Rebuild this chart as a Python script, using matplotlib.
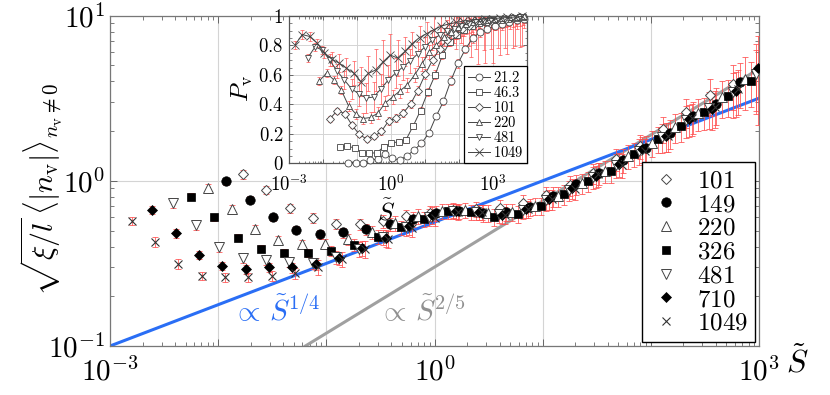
import numpy as np
import matplotlib
matplotlib.use("Agg")
import matplotlib.pyplot as plt
from matplotlib.ticker import FixedLocator, FuncFormatter, LogLocator, NullFormatter, MultipleLocator

plt.rcParams["mathtext.fontset"] = "cm"
plt.rcParams["font.family"] = "serif"
plt.rcParams["font.serif"] = ["DejaVu Serif"]

# main panel: data collapse, one series per system size
sizes = ["101", "149", "220", "326", "481", "710", "1049"]

x_101 = [0.0169, 0.0278, 0.0457, 0.0751, 0.123, 0.203, 0.333, 0.548, 0.900, 1.48, 2.43, 3.99,
         6.56, 10.8, 17.7, 29.1, 47.9, 78.7, 129, 212, 349, 574, 943]
y_101 = [1.098, 0.882, 0.680, 0.594, 0.547, 0.547, 0.572, 0.609, 0.637, 0.664, 0.674, 0.683,
         0.732, 0.819, 0.942, 1.113, 1.354, 1.623, 2.057, 2.609, 3.307, 3.855, 4.623]
e_101 = [0.06, 0.06, 0.06, 0.07, 0.07, 0.08, 0.09, 0.10, 0.10, 0.10, 0.10, 0.12,
         0.12, 0.12, 0.14, 0.14, 0.15, 0.16, 0.18, 0.20, 0.25, 0.30, 0.45]

x_149 = [0.0119, 0.0195, 0.0320, 0.0526, 0.0865, 0.142, 0.233, 0.384, 0.630, 1.04, 1.70, 2.80,
         4.60, 7.56, 12.4, 20.4, 33.5, 55.1, 90.5, 149, 244, 402, 660]
y_149 = [0.992, 0.769, 0.603, 0.505, 0.475, 0.487, 0.510, 0.547, 0.586, 0.637, 0.655, 0.637,
         0.646, 0.693, 0.808, 0.955, 1.113, 1.335, 1.578, 1.945, 2.466, 2.916, 3.964]
e_149 = [0.05, 0.05, 0.05, 0.05, 0.06, 0.07, 0.08, 0.09, 0.10, 0.10, 0.10, 0.12,
         0.12, 0.12, 0.14, 0.14, 0.15, 0.16, 0.18, 0.20, 0.22, 0.25, 0.30]

x_220 = [0.00813, 0.0134, 0.0220, 0.0361, 0.0593, 0.0974, 0.160, 0.263, 0.432, 0.710, 1.17, 1.92,
         3.15, 5.18, 8.51, 14.0, 23.0, 37.8, 62.1, 102, 168, 275, 452, 743]
y_220 = [0.899, 0.674, 0.510, 0.439, 0.413, 0.417, 0.443, 0.489, 0.554, 0.611, 0.655, 0.664,
         0.637, 0.646, 0.703, 0.808, 0.968, 1.145, 1.411, 1.692, 2.116, 2.572, 3.217, 4.134]
e_220 = [0.06, 0.06, 0.06, 0.06, 0.06, 0.07, 0.08, 0.09, 0.10, 0.10, 0.10, 0.10,
         0.12, 0.12, 0.12, 0.14, 0.14, 0.15, 0.16, 0.18, 0.20, 0.22, 0.25, 0.35]

x_326 = [0.00562, 0.00923, 0.0152, 0.0249, 0.0410, 0.0673, 0.111, 0.182, 0.299, 0.491, 0.806, 1.33,
         2.18, 3.58, 5.88, 9.67, 15.9, 26.1, 42.9, 70.5, 116, 190, 313, 514, 845]
y_326 = [0.802, 0.600, 0.453, 0.388, 0.368, 0.366, 0.376, 0.409, 0.460, 0.522, 0.586, 0.655,
         0.646, 0.603, 0.628, 0.703, 0.831, 0.996, 1.145, 1.451, 1.789, 2.145, 2.609, 3.262, 4.020]
e_326 = [0.05, 0.05, 0.05, 0.05, 0.05, 0.06, 0.07, 0.08, 0.10, 0.10, 0.10, 0.10,
         0.10, 0.12, 0.12, 0.12, 0.14, 0.14, 0.15, 0.16, 0.18, 0.20, 0.22, 0.25, 0.30]

x_481 = [0.00379, 0.00623, 0.0102, 0.0168, 0.0276, 0.0454, 0.0746, 0.123, 0.201, 0.331, 0.544, 0.893,
         1.47, 2.41, 3.97, 6.52, 10.7, 17.6, 28.9, 47.5, 78.1, 128, 211, 347, 569, 936]
y_481 = [0.738, 0.543, 0.400, 0.339, 0.331, 0.324, 0.317, 0.345, 0.386, 0.456, 0.524, 0.603,
         0.655, 0.646, 0.628, 0.664, 0.764, 0.878, 1.053, 1.245, 1.514, 1.840, 2.333, 2.758, 3.449, 4.434]
e_481 = [0.07, 0.07, 0.07, 0.06, 0.06, 0.07, 0.08, 0.09, 0.10, 0.10, 0.12, 0.12,
         0.10, 0.10, 0.12, 0.12, 0.14, 0.14, 0.15, 0.16, 0.18, 0.20, 0.22, 0.25, 0.30, 0.40]

x_710 = [0.00247, 0.00405, 0.00666, 0.0109, 0.0180, 0.0295, 0.0485, 0.0797, 0.131, 0.215, 0.354, 0.581,
         0.955, 1.57, 2.58, 4.24, 6.97, 11.5, 18.8, 30.9, 50.8, 83.5, 137, 225, 370, 609, 985]
y_710 = [0.667, 0.480, 0.356, 0.305, 0.292, 0.299, 0.299, 0.314, 0.340, 0.391, 0.449, 0.531,
         0.620, 0.655, 0.646, 0.620, 0.674, 0.775, 0.903, 1.068, 1.262, 1.556, 1.866, 2.365, 2.720, 3.497, 4.820]
e_710 = [0.06, 0.06, 0.06, 0.06, 0.06, 0.06, 0.07, 0.08, 0.09, 0.10, 0.12, 0.12,
         0.12, 0.10, 0.10, 0.12, 0.12, 0.14, 0.14, 0.15, 0.16, 0.18, 0.20, 0.22, 0.25, 0.30, 0.55]

x_1049 = [0.00159, 0.00261, 0.00429, 0.00705, 0.0116, 0.0190, 0.0313, 0.0514, 0.0845, 0.139, 0.228, 0.375,
          0.616, 1.01, 1.66, 2.73, 4.49, 7.38, 12.1, 19.9, 32.7, 53.8, 88.4, 145, 239, 392, 645]
y_1049 = [0.572, 0.425, 0.313, 0.266, 0.261, 0.261, 0.265, 0.276, 0.300, 0.335, 0.386, 0.443,
          0.517, 0.594, 0.646, 0.646, 0.620, 0.674, 0.775, 0.891, 1.098, 1.245, 1.514, 1.866, 2.399, 2.797, 3.596]
e_1049 = [0.06, 0.07, 0.07, 0.06, 0.06, 0.06, 0.07, 0.08, 0.10, 0.10, 0.12, 0.12,
          0.12, 0.10, 0.10, 0.10, 0.12, 0.12, 0.14, 0.14, 0.16, 0.16, 0.18, 0.20, 0.22, 0.25, 0.30]

main_x = [x_101, x_149, x_220, x_326, x_481, x_710, x_1049]
main_y = [y_101, y_149, y_220, y_326, y_481, y_710, y_1049]
main_e = [e_101, e_149, e_220, e_326, e_481, e_710, e_1049]

# guide lines
blue_x = [1e-3, 1e3]
blue_y = [0.1, 3.16]
gray_x = [0.064, 1e3]
gray_y = [0.1, 4.76]

# inset: P_v vs S~
in_sizes = ["21.2", "46.3", "101", "220", "481", "1049"]

ix_21 = [0.0555, 0.0912, 0.150, 0.246, 0.405, 0.665, 1.09, 1.80, 2.95, 4.85, 7.96, 13.1, 21.5,
         35.4, 58.1, 95.5, 157, 258, 424, 696, 1144, 1879, 3089, 5075, 8342]
ip_21 = [0.005, 0.005, 0.005, 0.02, 0.03, 0.063, 0.034, 0.022, 0.05, 0.09, 0.136, 0.204, 0.32,
         0.42, 0.56, 0.68, 0.776, 0.85, 0.89, 0.912, 0.934, 0.946, 0.959, 0.973, 0.98]
ie_21 = [0.005, 0.005, 0.005, 0.008, 0.01, 0.015, 0.01, 0.01, 0.012, 0.015, 0.02, 0.02, 0.02,
         0.025, 0.03, 0.03, 0.03, 0.03, 0.03, 0.03, 0.03, 0.03, 0.03, 0.03, 0.03]

ix_46 = [0.0316, 0.0519, 0.0853, 0.140, 0.230, 0.379, 0.622, 1.02, 1.68, 2.76, 4.53, 7.45, 12.2,
         20.1, 33.1, 54.3, 89.3, 147, 241, 396, 651, 1070, 1758, 2890, 4749, 7802]
ip_46 = [0.11, 0.115, 0.105, 0.073, 0.07, 0.07, 0.113, 0.136, 0.147, 0.158, 0.253, 0.358, 0.484,
         0.6, 0.735, 0.823, 0.871, 0.905, 0.932, 0.95, 0.96, 0.97, 0.975, 0.98, 0.985, 0.99]
ie_46 = [0.01, 0.01, 0.01, 0.01, 0.01, 0.01, 0.015, 0.015, 0.02, 0.02, 0.02, 0.025, 0.03,
         0.03, 0.03, 0.03, 0.03, 0.04, 0.04, 0.04, 0.04, 0.05, 0.05, 0.05, 0.05, 0.05]

ix_101 = [0.0161, 0.0265, 0.0435, 0.0714, 0.117, 0.193, 0.317, 0.521, 0.856, 1.41, 2.31, 3.80, 6.24,
          10.3, 16.9, 27.7, 45.5, 74.8, 123, 202, 332, 545, 896, 1472, 2420, 3975, 6532]
ip_101 = [0.303, 0.358, 0.338, 0.26, 0.196, 0.165, 0.182, 0.216, 0.287, 0.308, 0.341, 0.403, 0.494,
          0.606, 0.701, 0.779, 0.837, 0.881, 0.912, 0.935, 0.952, 0.963, 0.969, 0.976, 0.983, 0.986, 0.993]
ie_101 = [0.02, 0.02, 0.02, 0.02, 0.02, 0.02, 0.02, 0.025, 0.025, 0.03, 0.03, 0.03, 0.03,
          0.035, 0.035, 0.04, 0.04, 0.04, 0.05, 0.05, 0.05, 0.06, 0.06, 0.06, 0.06, 0.06, 0.06]

ix_220 = [0.00778, 0.0128, 0.0210, 0.0345, 0.0567, 0.0932, 0.153, 0.252, 0.414, 0.680, 1.12, 1.84,
          3.02, 4.96, 8.15, 13.4, 22.0, 36.1, 59.4, 97.6, 160, 263, 433, 711, 1169, 1921, 3156, 5187, 8529]
ip_220 = [0.559, 0.613, 0.566, 0.498, 0.39, 0.335, 0.304, 0.311, 0.341, 0.409, 0.45, 0.491,
          0.532, 0.599, 0.674, 0.756, 0.803, 0.857, 0.891, 0.925, 0.946, 0.959, 0.969, 0.976, 0.983,
          0.986, 0.99, 0.993, 0.997]
ie_220 = [0.03, 0.03, 0.03, 0.03, 0.035, 0.035, 0.04, 0.04, 0.04, 0.045, 0.05, 0.05,
          0.05, 0.05, 0.05, 0.05, 0.06, 0.06, 0.06, 0.07, 0.07, 0.08, 0.08, 0.08, 0.08,
          0.08, 0.08, 0.08, 0.08]

ix_481 = [0.00355, 0.00583, 0.00959, 0.0158, 0.0259, 0.0425, 0.0699, 0.115, 0.189, 0.310, 0.509, 0.837,
          1.38, 2.26, 3.72, 6.11, 10.0, 16.5, 27.1, 44.5, 73.2, 120, 198, 325, 534, 877, 1440, 2367,
          3891, 6390]
ip_481 = [0.715, 0.79, 0.769, 0.70, 0.627, 0.566, 0.505, 0.471, 0.443, 0.45, 0.505, 0.566,
          0.613, 0.654, 0.695, 0.742, 0.79, 0.837, 0.871, 0.895, 0.915, 0.935, 0.949, 0.959, 0.966,
          0.973, 0.98, 0.983, 0.986, 0.99]
ie_481 = [0.03, 0.03, 0.03, 0.04, 0.05, 0.06, 0.07, 0.08, 0.10, 0.10, 0.10, 0.10,
          0.10, 0.09, 0.08, 0.08, 0.07, 0.07, 0.07, 0.08, 0.10, 0.12, 0.15, 0.18, 0.20,
          0.20, 0.20, 0.20, 0.20, 0.20]

ix_1049 = [0.0015, 0.00246, 0.00405, 0.00666, 0.0109, 0.0180, 0.0295, 0.0485, 0.0797, 0.131, 0.215,
           0.354, 0.581, 0.956, 1.57, 2.58, 4.24, 6.97, 11.4, 18.8, 30.9, 50.8, 83.5, 137, 225, 370,
           609, 1000, 1644, 2700, 4437, 7292]
ip_1049 = [0.803, 0.874, 0.861, 0.817, 0.752, 0.708, 0.681, 0.647, 0.613, 0.555, 0.61, 0.633,
           0.688, 0.735, 0.715, 0.759, 0.813, 0.854, 0.881, 0.908, 0.932, 0.946, 0.956, 0.966,
           0.973, 0.976, 0.98, 0.983, 0.986, 0.99, 0.993, 0.997]
ie_1049 = [0.03, 0.03, 0.03, 0.03, 0.04, 0.05, 0.06, 0.07, 0.08, 0.10, 0.12, 0.14,
           0.15, 0.14, 0.12, 0.10, 0.08, 0.08, 0.08, 0.10, 0.12, 0.15, 0.18, 0.20,
           0.25, 0.30, 0.30, 0.30, 0.25, 0.25, 0.20, 0.20]

in_x = [ix_21, ix_46, ix_101, ix_220, ix_481, ix_1049]
in_p = [ip_21, ip_46, ip_101, ip_220, ip_481, ip_1049]
in_e = [ie_21, ie_46, ie_101, ie_220, ie_481, ie_1049]

# marker styles
main_style = {
    "101":  dict(marker="D", mfc="white", mec="#444444", ms=4.6, mew=0.7),
    "149":  dict(marker="o", mfc="black", mec="black", ms=6.8, mew=0.5),
    "220":  dict(marker="^", mfc="white", mec="#444444", ms=6.5, mew=0.7),
    "326":  dict(marker="s", mfc="black", mec="black", ms=6.3, mew=0.5),
    "481":  dict(marker="v", mfc="white", mec="#444444", ms=6.5, mew=0.7),
    "710":  dict(marker="D", mfc="black", mec="black", ms=4.6, mew=0.5),
    "1049": dict(marker="x", mfc="none", mec="#333333", ms=6.0, mew=0.8),
}
inset_marker = {"21.2": "o", "46.3": "s", "101": "D", "220": "^", "481": "v", "1049": "x"}
inset_ms = {"21.2": 5.0, "46.3": 5.0, "101": 3.6, "220": 5.0, "481": 5.0, "1049": 5.5}

ERR_C = "#ff4d4d"


def exp_label(keep):
    def f(v, pos):
        e = int(round(np.log10(v)))
        return rf"$10^{{{e}}}$" if e in keep else ""
    return f


fig = plt.figure(figsize=(8.3, 3.95), dpi=100)
ax = fig.add_axes([0.1325, 0.124, 0.782, 0.8367])

ax.set_xscale("log")
ax.set_yscale("log")
ax.set_xlim(1e-3, 1e3)
ax.set_ylim(0.1, 10)
ax.set_axisbelow(True)
ax.grid(which="major", color="#d4d4d4", lw=0.8)

ax.plot(gray_x, gray_y, color="#a0a0a0", lw=2.2, zorder=2)
ax.plot(blue_x, blue_y, color="#2a6ef5", lw=2.2, zorder=2)

for lab, xs, ys, es in zip(sizes, main_x, main_y, main_e):
    xs = np.array(xs)
    ys = np.array(ys)
    ax.errorbar(xs, ys, yerr=ys * np.array(es), fmt="none", ecolor=ERR_C,
                elinewidth=0.7, capsize=2.2, capthick=0.7, alpha=0.8, zorder=3)
for lab, xs, ys in zip(sizes, main_x, main_y):
    ax.plot(xs, ys, ls="none", label=rf"${lab}$", zorder=4, **main_style[lab])

ax.text(0.0135, 0.163, r"$\propto\,\tilde{S}^{1/4}$", color="#2a6ef5", fontsize=21,
        va="center", ha="left")
ax.text(0.30, 0.163, r"$\propto\,\tilde{S}^{2/5}$", color="#909090", fontsize=21,
        va="center", ha="left")

ax.xaxis.set_major_locator(FixedLocator([1e-3, 1e-2, 1e-1, 1e0, 1e1, 1e2, 1e3]))
ax.xaxis.set_major_formatter(FuncFormatter(exp_label((-3, 0, 3))))
ax.xaxis.set_minor_locator(LogLocator(base=10, subs=np.arange(2, 10), numticks=20))
ax.xaxis.set_minor_formatter(NullFormatter())
ax.yaxis.set_major_locator(FixedLocator([0.1, 1, 10]))
ax.yaxis.set_major_formatter(FuncFormatter(exp_label((-1, 0, 1))))
ax.yaxis.set_minor_locator(LogLocator(base=10, subs=np.arange(2, 10), numticks=20))
ax.yaxis.set_minor_formatter(NullFormatter())
ax.tick_params(which="both", direction="in", top=True, right=True, color="#666666",
               labelsize=21)
ax.tick_params(which="major", length=5, width=0.7)
ax.tick_params(which="minor", length=3, width=0.6)
ax.tick_params(axis="x", pad=8)
for s in ax.spines.values():
    s.set_color("#777777")
    s.set_linewidth(0.9)

# y label placed by its centre
fig.text(42 / 830, 1 - 189 / 395,
         r"$\sqrt{\xi/l}\,\langle|n_{\rm v}|\rangle_{n_{\rm v}\neq 0}$",
         fontsize=21.5, rotation=90, ha="center", va="center", rotation_mode="anchor")
ax.text(1.059, -0.05, r"$\tilde{S}$", transform=ax.transAxes, fontsize=23,
        ha="center", va="center")

leg = ax.legend(loc="lower right", fontsize=18, frameon=True, fancybox=False,
                edgecolor="black", framealpha=1, borderaxespad=0.15, labelspacing=0.03,
                handletextpad=0.6, handlelength=1.3, borderpad=0.3, markerscale=1.0)
leg.get_frame().set_linewidth(1.0)
leg.set_zorder(6)

# inset
axi = fig.add_axes([0.3482, 0.5866, 0.2864, 0.3729])
axi.set_zorder(5)
axi.set_facecolor("white")
axi.set_xscale("log")
axi.set_xlim(1e-3, 1e4)
axi.set_ylim(0, 1)
axi.set_axisbelow(True)
axi.grid(which="major", color="#d4d4d4", lw=0.7)

for lab, xs, ps, es in zip(in_sizes, in_x, in_p, in_e):
    axi.errorbar(xs, ps, yerr=es, fmt="none", ecolor=ERR_C, elinewidth=0.6,
                 capsize=1.5, capthick=0.6, alpha=0.8, zorder=2)
for lab, xs, ps in zip(in_sizes, in_x, in_p):
    axi.plot(xs, ps, color="#444444", lw=0.7, marker=inset_marker[lab], ms=inset_ms[lab],
             mfc="white", mec="#444444", mew=0.6, label=rf"${lab}$", zorder=3, clip_on=False)

axi.xaxis.set_major_locator(FixedLocator([10.0 ** k for k in range(-3, 5)]))
axi.xaxis.set_major_formatter(FuncFormatter(exp_label((-3, 0, 3))))
axi.xaxis.set_minor_locator(LogLocator(base=10, subs=np.arange(2, 10), numticks=30))
axi.xaxis.set_minor_formatter(NullFormatter())
axi.yaxis.set_major_locator(FixedLocator([0, 0.2, 0.4, 0.6, 0.8, 1.0]))
axi.yaxis.set_major_formatter(FuncFormatter(lambda v, pos: "$1$" if v > 0.99 else
                                            ("$0$" if v < 0.01 else rf"${v:.1f}$")))
axi.yaxis.set_minor_locator(MultipleLocator(0.05))
axi.tick_params(which="both", direction="in", top=True, right=True, color="#555555",
                labelsize=13.5)
axi.tick_params(which="major", length=3, width=0.6)
axi.tick_params(which="minor", length=1.8, width=0.5)
axi.tick_params(axis="x", pad=8)
axi.tick_params(axis="y", pad=4)
for s in axi.spines.values():
    s.set_color("#555555")
    s.set_linewidth(0.9)

axi.set_ylabel(r"$P_{\rm v}$", fontsize=18)
axi.yaxis.set_label_coords(-0.145, 0.51)
axi.text(0.41, -0.33, r"$\tilde{S}$", transform=axi.transAxes, fontsize=18,
         ha="center", va="center")

ileg = axi.legend(loc="lower right", fontsize=10.5, frameon=True, fancybox=False,
                  edgecolor="black", framealpha=1, borderaxespad=0.0, labelspacing=0.0,
                  handletextpad=0.2, handlelength=1.5, borderpad=0.25)
ileg.get_frame().set_linewidth(0.9)

fig.savefig("out.png", dpi=100)
